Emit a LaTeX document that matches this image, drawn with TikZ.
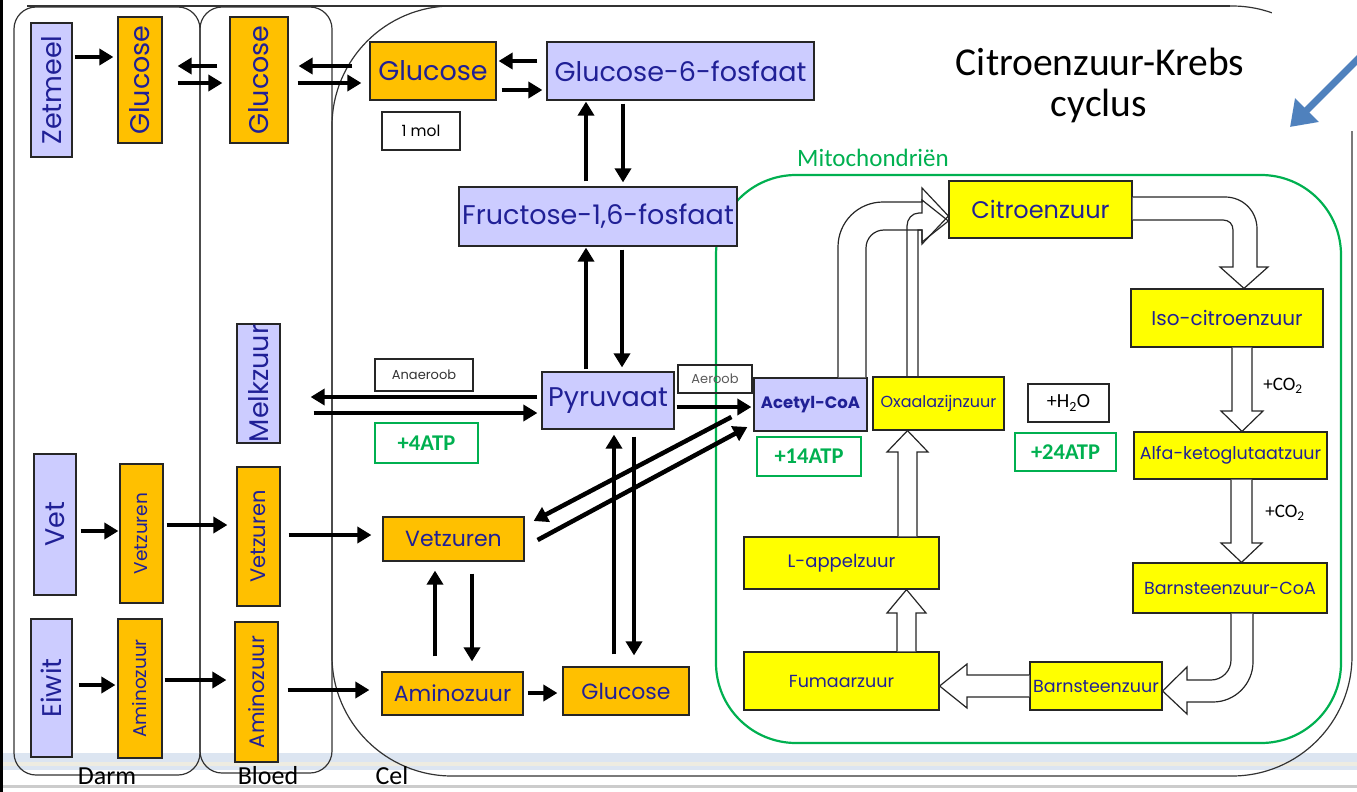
\documentclass[tikz,border=0pt]{standalone}
\usepackage{fontspec}
\setmainfont{Poppins}
\newfontfamily\calib{Carlito}
\usetikzlibrary{arrows.meta,calc}

\definecolor{lavbox}{RGB}{204,204,255}
\definecolor{orgbox}{RGB}{255,192,0}
\definecolor{yelbox}{RGB}{255,255,0}
\definecolor{mitogreen}{RGB}{0,176,80}
\definecolor{txtblue}{RGB}{32,32,150}
\definecolor{bandblue}{RGB}{220,229,241}
\definecolor{bandbeige}{RGB}{238,236,225}
\definecolor{pointblue}{RGB}{79,129,189}

\newcommand\fsbig{\fontsize{27}{27}\selectfont}
\newcommand\fsmid{\fontsize{22}{22}\selectfont}
\newcommand\fsdarm{\fontsize{18.5}{18.5}\selectfont}
\newcommand\fsbloed{\fontsize{21}{21}\selectfont}
\newcommand\fsnote{\fontsize{13}{13}\selectfont}
\newcommand\fskrebs{\fontsize{17.5}{17.5}\selectfont}

\begin{document}
\begin{tikzpicture}[
    x=1pt, y=-1pt,
    box/.style={draw=black!85, line width=1.2pt, inner sep=0pt, text=txtblue},
    lav/.style={box, fill=lavbox},
    org/.style={box, fill=orgbox},
    yel/.style={box, fill=yelbox, font=\fskrebs},
    wbox/.style={draw=black!85, line width=1.1pt, inner sep=0pt, text=black!80, font=\fsnote},
    atp/.style={draw=mitogreen, line width=1.2pt, inner sep=0pt, text=mitogreen, font=\calib\bfseries\fontsize{22.5}{22.5}\selectfont},
    arr/.style={draw, line width=4.5pt, -{Triangle[length=14pt,width=16pt]}},
    blk/.style={draw=black!85, line width=1.2pt, fill=white, line join=miter},
    frame/.style={draw=black!80, line width=1.2pt},
    lbl/.style={font=\calib\fontsize{26}{26}\selectfont, inner sep=0pt}
  ]
    \useasboundingbox (0,0) rectangle (1357,792);

    % bands at the bottom of the screenshot
    \fill[bandblue] (0,753) rectangle (1357,762);
    \fill[bandbeige] (0,762) rectangle (1357,766);
    \fill[bandblue] (0,766) rectangle (1357,770);
    \fill[black!20] (0,785) rectangle (1357,788);
    \fill[black] (0,0) rectangle (3,792);

    % compartments
    \draw[frame, rounded corners=22pt] (14,7) rectangle (200,775);
    \draw[frame, rounded corners=22pt] (200,7) rectangle (332,773);
    \draw[frame, rounded corners=120pt] (332,6) rectangle (1352,776);
    \draw[frame] (27,6) -- (1230,6);
    \draw[mitogreen, line width=2.2pt, rounded corners=80pt] (716,175) rectangle (1341,743);

    \node[lbl] (darm) at (107,776) {Darm};
    \node[lbl] (bloed) at (268,776) {Bloed};
    \node[lbl] (cel) at (392,776) {Cel};
    \node[font=\calib\fontsize{25}{25}\selectfont, text=mitogreen] (mito) at (873,158) {Mitochondriën};
    \node[font=\calib\fontsize{39.5}{39.5}\selectfont] (titleA) at (1100,62) {Citroenzuur-Krebs};
    \node[font=\calib\fontsize{39.5}{39.5}\selectfont] (titleB) at (1099,106) {cyclus};

    % Darm
    \node[lav, minimum width=41pt, minimum height=134pt, font=\fsbig] (zetmeel) at (51.5,90) {\rotatebox{90}{Zetmeel}};
    \node[org, minimum width=44pt, minimum height=126pt, font=\fsbig] (gluD) at (140,80) {\rotatebox{90}{Glucose}};
    \node[lav, minimum width=42pt, minimum height=141pt, font=\fsbig] (vet) at (55,524.5) {\rotatebox{90}{Vet}};
    \node[org, minimum width=43pt, minimum height=139pt, font=\fsdarm] (vetzD) at (141.5,533.5) {\rotatebox{90}{Vetzuren}};
    \node[lav, minimum width=41pt, minimum height=138pt, font=\fsbig] (eiwit) at (51.5,688) {\rotatebox{90}{Eiwit}};
    \node[org, minimum width=44pt, minimum height=139pt, font=\fsdarm] (aminoD) at (140,688.5) {\rotatebox{90}{Aminozuur}};

    % Bloed
    \node[org, minimum width=58pt, minimum height=126pt, font=\fsbig] (gluB) at (259,80) {\rotatebox{90}{Glucose}};
    \node[lav, minimum width=43pt, minimum height=119pt, font=\fsbig] (melk) at (258.5,383.5) {\rotatebox{90}{Melkzuur}};
    \node[org, minimum width=43pt, minimum height=139pt, font=\fsbloed] (vetzB) at (258.5,536.5) {\rotatebox{90}{Vetzuren}};
    \node[org, minimum width=43pt, minimum height=140pt, font=\fsbloed] (aminoB) at (256.5,692) {\rotatebox{90}{Aminozuur}};

    % Cel
    \node[org, minimum width=126pt, minimum height=58pt, font=\fsbig] (gluC) at (433,71) {Glucose};
    \node[wbox, minimum width=78pt, minimum height=38pt, text=black, font=\fontsize{15.5}{15.5}\selectfont] (mol) at (421,131) {1 mol};
    \node[lav, minimum width=267pt, minimum height=58pt, font=\fsbig] (g6f) at (680.5,71) {Glucose-6-fosfaat};
    \node[lav, minimum width=278pt, minimum height=59pt, font=\fsbig] (fru) at (598,216.5) {Fructose-1,6-fosfaat};
    \node[lav, minimum width=132pt, minimum height=57pt, font=\fsbig] (pyr) at (608,400.5) {Pyruvaat};
    \node[wbox, minimum width=98pt, minimum height=32pt] (anaer) at (424,375) {Anaeroob};
    \node[atp, minimum width=103pt, minimum height=40pt] (atpfour) at (426.5,443) {+4ATP};
    \node[wbox, minimum width=74pt, minimum height=28pt, text=black!65] (aer) at (715,379) {Aeroob};
    \node[org, minimum width=141pt, minimum height=44pt, font=\fsmid] (vetzC) at (453.5,539) {Vetzuren};
    \node[org, minimum width=141pt, minimum height=43pt, font=\fsmid] (aminoC) at (452.5,693.5) {Aminozuur};
    \node[org, minimum width=126pt, minimum height=48pt, font=\fsmid] (gluCB) at (626,691) {Glucose};

    % Mitochondrien
    \node[lav, minimum width=113pt, minimum height=53pt, font=\fontsize{16.5}{16.5}\selectfont\bfseries] (acetyl) at (810.5,404.5) {Acetyl-CoA};
    \node[atp, minimum width=104pt, minimum height=39pt] (atpfourteen) at (809,456.5) {+14ATP};
    \node[yel, minimum width=131pt, minimum height=53pt, font=\fontsize{16}{16}\selectfont] (oxaal) at (938.5,403.5) {Oxaalazijnzuur};
    \node[wbox, minimum width=81pt, minimum height=38pt, text=black, font=\calib\fontsize{20}{20}\selectfont] (water) at (1068.5,403) {+H\textsubscript{2}O};
    \node[atp, minimum width=101pt, minimum height=38pt] (atptwentyfour) at (1065.5,452) {+24ATP};
    \node[yel, minimum width=183pt, minimum height=57pt, font=\fontsize{24}{24}\selectfont] (citro) at (1040.5,209.5) {Citroenzuur};
    \node[yel, minimum width=192pt, minimum height=58pt, font=\fontsize{20}{20}\selectfont] (iso) at (1227,318) {Iso-citroenzuur};
    \node[yel, minimum width=193pt, minimum height=47pt] (alfa) at (1230.5,455.5) {Alfa-ketoglutaatzuur};
    \node[yel, minimum width=194pt, minimum height=50pt] (bcoa) at (1230,588) {Barnsteenzuur-CoA};
    \node[yel, minimum width=132pt, minimum height=48pt] (barn) at (1096,686) {Barnsteenzuur};
    \node[yel, minimum width=195pt, minimum height=58pt] (fum) at (841.5,681) {Fumaarzuur};
    \node[yel, minimum width=195pt, minimum height=52pt, font=\fontsize{18}{18}\selectfont] (lapp) at (841.5,563) {L-appelzuur};
    \node[font=\calib\fontsize{19}{19}\selectfont] (coA) at (1283,386) {+CO\textsubscript{2}};
    \node[font=\calib\fontsize{19}{19}\selectfont] (coB) at (1285,513) {+CO\textsubscript{2}};

    % Krebs cycle block arrows
    \draw[blk] (citro.east |- 0,197) -- (1225,197) .. controls (1243,197) and (1257,211) .. (1257,229)
      -- (1257,267) -- (1268,267) -- (iso.north -| 1244,0) -- (1220,267) -- (1233,267) -- (1233,230)
      .. controls (1233,224) and (1229,220) .. (1223,220) -- (citro.east |- 0,220);
    \draw[blk] (iso.south -| 1232,0) -- (1232,411) -- (1221,411) -- (alfa.north -| 1242,0) -- (1263,411) -- (1252,411) -- (iso.south -| 1252,0);
    \draw[blk] (alfa.south -| 1231,0) -- (1231,543) -- (1221,543) -- (bcoa.north -| 1241.5,0) -- (1262,543) -- (1252,543) -- (alfa.south -| 1252,0);
    \draw[blk] (bcoa.south -| 1231,0) -- (1231,660) .. controls (1231,671) and (1222,680) .. (1211,680) -- (1187,680)
      -- (1187,667) -- (barn.east |- 0,691) -- (1187,714) -- (1187,702) -- (1213,702)
      .. controls (1235,702) and (1253,684) .. (1253,662) -- (bcoa.south -| 1253,0);
    \draw[blk] (barn.west |- 0,675) -- (967,675) -- (967,664) -- (fum.east |- 0,686) -- (967,708) -- (967,697) -- (barn.west |- 0,697);
    \draw[blk] (fum.north -| 897,0) -- (897,613) -- (887,613) -- (lapp.south -| 906.5,0) -- (926,613) -- (916,613) -- (fum.north -| 916,0);
    \draw[blk] (lapp.north -| 898,0) -- (898,452) -- (887,452) -- (oxaal.south -| 907.5,0) -- (928,452) -- (917,452) -- (lapp.north -| 917,0);
    \draw[blk] (acetyl.north -| 838,0) -- (838,247) .. controls (838,222) and (858,202) .. (883,202) -- (922,202)
      -- (922,188) -- (citro.west |- 0,216) -- (922,244) -- (922,230) -- (884,230)
      .. controls (874,230) and (866,238) .. (866,248) -- (acetyl.north -| 866,0);
    \draw[blk, fill=none] (oxaal.north -| 907,0) -- (907,226) .. controls (907,219) and (912,213) .. (919,213) -- (922,213)
      -- (922,200) -- (citro.west |- 0,221) -- (922,242) -- (922,230) -- (918,230) -- (oxaal.north -| 918,0);

    % transport arrows
    \draw[arr, shorten <=2pt, shorten >=4pt] (zetmeel.east |- 0,57) -- (gluD.west |- 0,57);
    \draw[arr, shorten <=12pt, shorten >=15pt] (gluB.west |- 0,66) -- (gluD.east |- 0,66);
    \draw[arr, shorten <=15pt, shorten >=7pt] (gluD.east |- 0,83) -- (gluB.west |- 0,83);
    \draw[arr, shorten <=17pt, shorten >=10pt] (gluC.west |- 0,66) -- (gluB.east |- 0,66);
    \draw[arr, shorten <=9pt, shorten >=8pt] (gluB.east |- 0,83) -- (gluC.west |- 0,83);
    \draw[arr, shorten <=4pt, shorten >=1pt] (vet.east |- 0,531) -- (vetzD.west |- 0,531);
    \draw[arr, shorten <=3pt, shorten >=9pt] (vetzD.east |- 0,525) -- (vetzB.west |- 0,525);
    \draw[arr, shorten <=8pt, shorten >=11pt] (vetzB.east |- 0,535) -- (vetzC.west |- 0,535);
    \draw[arr, shorten <=6pt, shorten >=2pt] (eiwit.east |- 0,685) -- (aminoD.west |- 0,685);
    \draw[arr, shorten <=2pt, shorten >=8pt] (aminoD.east |- 0,680) -- (aminoB.west |- 0,680);
    \draw[arr, shorten <=9pt, shorten >=12pt] (aminoB.east |- 0,690) -- (aminoC.west |- 0,690);

    % glycolysis
    \draw[arr, shorten <=9pt, shorten >=2pt] (g6f.west |- 0,61) -- (gluC.east |- 0,61);
    \draw[arr, shorten <=5pt, shorten >=4pt] (gluC.east |- 0,90) -- (g6f.west |- 0,90);
    \draw[arr, shorten <=5pt, shorten >=1pt] (fru.north -| 586,0) -- (g6f.south -| 586,0);
    \draw[arr, shorten <=3pt, shorten >=4pt] (g6f.south -| 623,0) -- (fru.north -| 623,0);
    \draw[arr, shorten <=2pt, shorten >=1pt] (pyr.north -| 586,0) -- (fru.south -| 586,0);
    \draw[arr, shorten <=3pt, shorten >=4pt] (fru.south -| 622,0) -- (pyr.north -| 622,0);
    \draw[arr, shorten <=4pt, shorten >=30pt] (pyr.west |- 0,397) -- (melk.east |- 0,397);
    \draw[arr, shorten <=33pt, shorten >=4pt] (melk.east |- 0,413) -- (pyr.west |- 0,413);
    \draw[arr, shorten <=2pt, shorten >=2pt] (pyr.east |- 0,407) -- (acetyl.west |- 0,407);
    \draw[arr] ($(acetyl.west)+(-22,12.5)$) -- ($(vetzC.east)+(9,-18)$);
    \draw[arr] ($(vetzC.east)+(13,1)$) -- ($(acetyl.west)+(-6,22.5)$);
    \draw[arr, shorten <=15pt, shorten >=9pt] (aminoC.north -| 435,0) -- (vetzC.south -| 435,0);
    \draw[arr, shorten <=12pt, shorten >=10pt] (vetzC.south -| 472,0) -- (aminoC.north -| 472,0);
    \draw[arr, shorten <=4pt, shorten >=5pt] (aminoC.east |- 0,693) -- (gluCB.west |- 0,693);
    \draw[arr, shorten <=12pt, shorten >=5pt] (gluCB.north -| 614,0) -- (pyr.south -| 614,0);
    \draw[arr, shorten <=7pt, shorten >=11pt] (pyr.south -| 634,0) -- (gluCB.north -| 634,0);

    % pointer to the title
    \fill[white] (1272,0) rectangle (1357,131);
    \coordinate (bluetail) at (1366,51);
    \coordinate (bluetip) at (1290,127);
    \draw[pointblue, line width=7pt, -{Triangle[length=24pt,width=32pt]}] (bluetail) -- (bluetip);
  \end{tikzpicture}
\end{document}
